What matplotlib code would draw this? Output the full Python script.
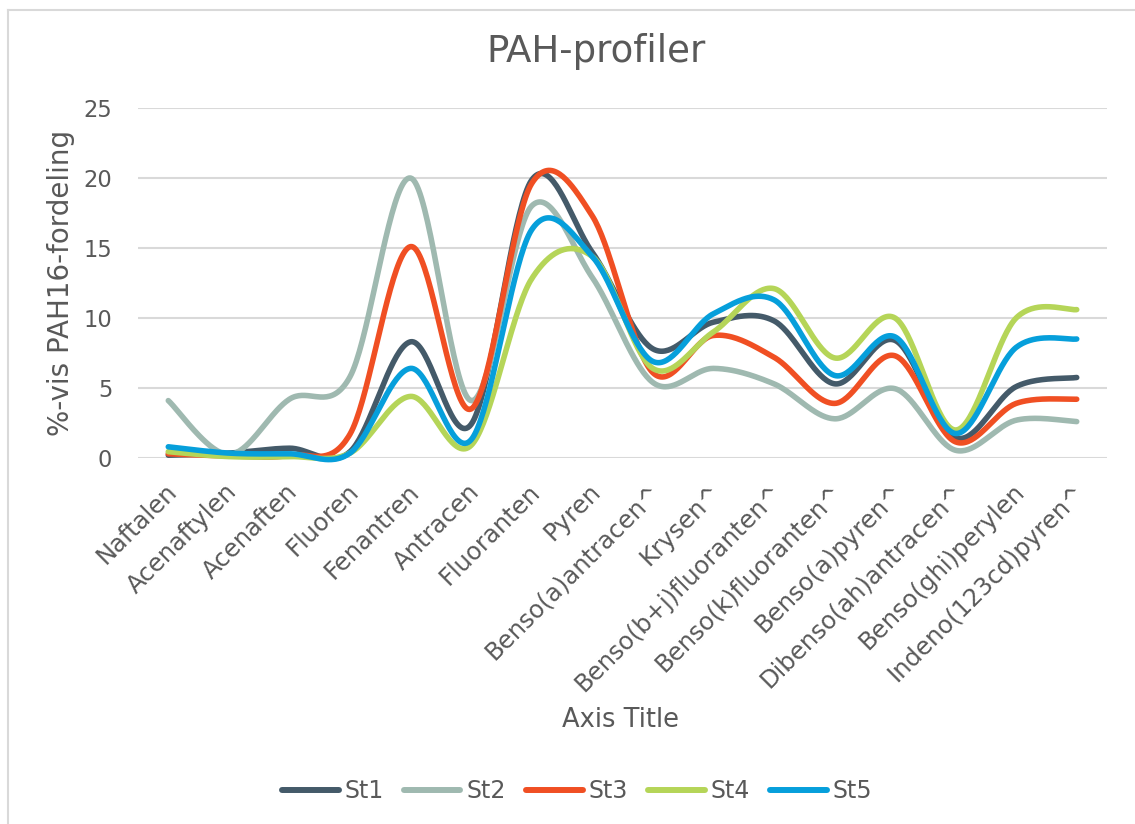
import numpy as np
import matplotlib
matplotlib.use("Agg")
import matplotlib.pyplot as plt
from matplotlib.lines import Line2D
import matplotlib.transforms as mtransforms

plt.rcParams["font.family"] = ["DejaVu Sans"]

categories = ["Naftalen", "Acenaftylen", "Acenaften", "Fluoren", "Fenantren", "Antracen",
              "Fluoranten", "Pyren", "Benso(a)antracen^", "Krysen^", "Benso(b+j)fluoranten^",
              "Benso(k)fluoranten^", "Benso(a)pyren^", "Dibenso(ah)antracen^",
              "Benso(ghi)perylen", "Indeno(123cd)pyren^"]

st1 = [0.2, 0.35, 0.7, 0.45, 8.3, 2.4, 19.85, 14.7, 7.8, 9.7, 9.8, 5.3, 8.4, 1.45, 5.1, 5.75]
st2 = [4.1, 0.25, 4.2, 5.8, 20.0, 4.1, 18.0, 12.9, 5.4, 6.4, 5.3, 2.8, 4.95, 0.55, 2.7, 2.6]
st3 = [0.3, 0.15, 0.2, 1.7, 15.1, 3.5, 19.6, 17.3, 6.1, 8.75, 7.2, 3.9, 7.3, 1.15, 3.9, 4.2]
st4 = [0.45, 0.1, 0.1, 0.35, 4.4, 0.9, 12.8, 14.4, 6.4, 9.0, 12.1, 7.15, 10.0, 2.0, 10.0, 10.6]
st5 = [0.8, 0.35, 0.3, 0.35, 6.4, 1.3, 16.3, 14.4, 6.9, 10.3, 11.3, 5.9, 8.65, 1.75, 7.9, 8.5]

series = [("St1", st1, "#445a69"), ("St2", st2, "#9fb9b0"), ("St3", st3, "#f04f23"),
          ("St4", st4, "#b5d558"), ("St5", st5, "#069fdb")]
yticks = [0, 5, 10, 15, 20, 25]


def smooth(xs, ys, n=40):
    xs = np.asarray(xs, float)
    ys = np.asarray(ys, float)
    px = np.concatenate([[xs[0]], xs, [xs[-1]]])
    py = np.concatenate([[ys[0]], ys, [ys[-1]]])
    ox, oy = [], []
    t = np.linspace(0, 1, n)
    for i in range(1, len(px) - 2):
        p0 = np.array([px[i], py[i]])
        p3 = np.array([px[i + 1], py[i + 1]])
        c1 = p0 + (np.array([px[i + 1], py[i + 1]]) - np.array([px[i - 1], py[i - 1]])) / 6
        c2 = p3 - (np.array([px[i + 2], py[i + 2]]) - np.array([px[i], py[i]])) / 6
        b = ((1 - t) ** 3)[:, None] * p0 + (3 * (1 - t) ** 2 * t)[:, None] * c1 + \
            (3 * (1 - t) * t ** 2)[:, None] * c2 + (t ** 3)[:, None] * p3
        ox.extend(b[:, 0]); oy.extend(b[:, 1])
    return np.array(ox), np.array(oy)


W, H = 1135, 824
fig = plt.figure(figsize=(W / 100, H / 100), dpi=100)
fig.patch.set_facecolor("white")

# chart border (left and top visible)
fig.add_artist(Line2D([8 / W, 8 / W], [0, 1 - 9.5 / H], color="#d9d9d9", lw=1.5))
fig.add_artist(Line2D([8 / W, 1], [1 - 9.5 / H, 1 - 9.5 / H], color="#d9d9d9", lw=1.5))

ax = fig.add_axes([138 / W, 1 - 458 / H, (1107 - 138) / W, (458 - 108) / H])
ax.set_xlim(-0.5, len(categories) - 0.5)
ax.set_ylim(0, 25)
for s in ax.spines.values():
    s.set_visible(False)
ax.set_yticks(yticks)
ax.yaxis.grid(True, color="#d9d9d9", lw=1.5)
ax.set_axisbelow(True)
ax.tick_params(axis="both", length=0, colors="#595959")
ax.tick_params(axis="y", labelsize=16.3, pad=18.5)
ax.set_xticks(range(len(categories)))
ax.set_xticklabels(categories, rotation=45, ha="right", rotation_mode="anchor",
                   fontsize=17.5, color="#595959")
ax.tick_params(axis="x", pad=14)
shift = mtransforms.ScaledTranslation(-4 / 100, -2 / 100, fig.dpi_scale_trans)
for lbl in ax.get_xticklabels():
    lbl.set_transform(lbl.get_transform() + shift)

xs = np.arange(len(categories))
for name, vals, col in series:
    sx, sy = smooth(xs, vals)
    ax.plot(sx, sy, color=col, lw=4.0, label=name, solid_capstyle="round",
            solid_joinstyle="round", clip_on=False)

fig.text(61 / W, 1 - 283 / H, "%-vis PAH16-fordeling", rotation=90, ha="center",
         va="center", fontsize=20, color="#595959")
fig.text(621 / W, 1 - 727 / H, "Axis Title", ha="center", va="baseline",
         fontsize=18.5, color="#595959")
fig.text(596.5 / W, 1 - 62 / H, "PAH-profiler", ha="center", va="baseline",
         fontsize=26.7, color="#595959")

leg = fig.legend(loc="center", bbox_to_anchor=(577 / W, 1 - 791 / H), ncol=5,
                 frameon=False, fontsize=17, handlelength=2.4, handletextpad=0.25,
                 columnspacing=0.85, labelcolor="#595959")
for ln in leg.get_lines():
    ln.set_linewidth(4.3)
    ln.set_solid_capstyle("round")

fig.savefig("out.png", dpi=100, facecolor="white")
